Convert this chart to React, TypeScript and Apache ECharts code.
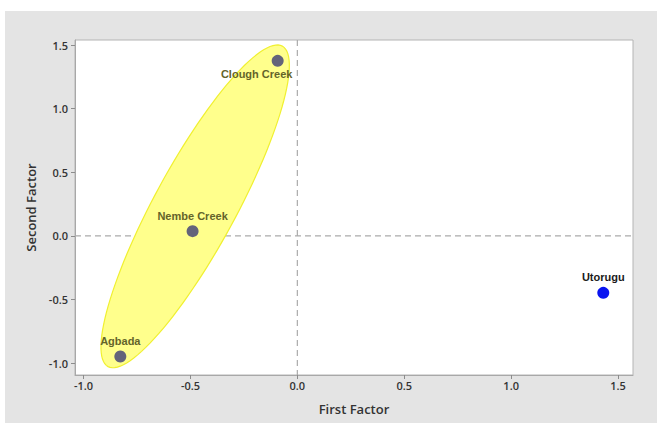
import React, { useEffect, useRef } from "react";
import * as echarts from "echarts";

// Factor scores per site
const sites = ["Clough Creek", "Nembe Creek", "Agbada", "Utorugu"];
const firstFactor = [-0.092, -0.49, -0.828, 1.431];
const secondFactor = [1.376, 0.037, -0.949, -0.448];
const grouped = [true, true, true, false];

const xTicks = [-1.0, -0.5, 0.0, 0.5, 1.0, 1.5];
const yTicks = [-1.0, -0.5, 0.0, 0.5, 1.0, 1.5];
const xRange = [-1.04, 1.57];
const yRange = [-1.094, 1.54];

// Grouping ellipse in factor units: centre, semi-major and semi-minor vectors
const ellipseCenter = [-0.478, 0.232];
const ellipseMajor = [0.4075, 1.26];
const ellipseMinor = [-0.1676, 0.1527];

const labelPlacement = [
  { position: "bottom", offset: [-21, -2] },
  { position: "top", offset: [0, 0] },
  { position: "top", offset: [0, 0] },
  { position: "top", offset: [0, 0] },
];

export default function App() {
  const ref = useRef<HTMLDivElement>(null);

  useEffect(() => {
    if (!ref.current) return;
    const chart = echarts.init(ref.current, undefined, { renderer: "svg" });

    const tickFont = {
      fontFamily: "Open Sans",
      fontWeight: 600 as const,
      fontSize: 11,
      color: "#333",
    };

    const points = sites.map((name, i) => ({
      name,
      value: [firstFactor[i], secondFactor[i]],
      itemStyle: { color: grouped[i] ? "#64647a" : "#0a14f0", opacity: 1 },
      label: {
        show: true,
        formatter: name,
        position: labelPlacement[i].position,
        offset: labelPlacement[i].offset,
        distance: 4,
        fontFamily: "Liberation Sans",
        fontWeight: "bold",
        fontSize: 11,
        color: grouped[i] ? "#64642a" : "#1a1a1a",
      },
    }));

    const dashStyle = {
      stroke: "#ababab",
      lineWidth: 1.2,
      lineDash: [6, 4],
      fill: null,
    };

    chart.setOption({
      animation: false,
      graphic: [
        {
          type: "rect",
          z: -10,
          silent: true,
          shape: { x: 5, y: 11, width: 652, height: 412 },
          style: { fill: "#e4e4e4" },
        },
      ],
      grid: {
        left: 75,
        top: 40,
        right: 24,
        bottom: 53,
        show: true,
        backgroundColor: "#ffffff",
        borderColor: "#b4b4b4",
        borderWidth: 1,
      },
      xAxis: {
        type: "value",
        min: xRange[0],
        max: xRange[1],
        name: "First Factor",
        nameLocation: "middle",
        nameGap: 27,
        nameTextStyle: {
          fontFamily: "Open Sans",
          fontWeight: 600,
          fontSize: 13,
          color: "#333",
        },
        splitLine: { show: false },
        axisLine: { show: true, onZero: false, lineStyle: { color: "#a8a8a8" } },
        axisTick: {
          show: true,
          length: 4,
          customValues: xTicks,
          lineStyle: { color: "#8c8c8c" },
        },
        axisLabel: {
          ...tickFont,
          margin: 5,
          customValues: xTicks,
          formatter: (v: number) => v.toFixed(1),
        },
      },
      yAxis: {
        type: "value",
        min: yRange[0],
        max: yRange[1],
        name: "Second Factor",
        nameLocation: "middle",
        nameGap: 38,
        nameTextStyle: {
          fontFamily: "Open Sans",
          fontWeight: 600,
          fontSize: 13,
          color: "#333",
        },
        splitLine: { show: false },
        axisLine: { show: true, onZero: false, lineStyle: { color: "#a8a8a8" } },
        axisTick: {
          show: true,
          length: 4,
          customValues: yTicks,
          lineStyle: { color: "#8c8c8c" },
        },
        axisLabel: {
          ...tickFont,
          margin: 7,
          customValues: yTicks,
          formatter: (v: number) => v.toFixed(1),
        },
      },
      series: [
        {
          // zero reference lines first, then the grouping ellipse over them
          type: "custom",
          z: 2,
          clip: false,
          silent: true,
          data: [ellipseCenter],
          renderItem: (_params: any, api: any) => {
            const vTop = api.coord([0, yRange[1]]);
            const vBottom = api.coord([0, yRange[0]]);
            const hLeft = api.coord([xRange[0], 0]);
            const hRight = api.coord([xRange[1], 0]);
            const pts: number[][] = [];
            const n = 120;
            for (let i = 0; i < n; i++) {
              const t = (i / n) * Math.PI * 2;
              const c = Math.cos(t);
              const s = Math.sin(t);
              const x = ellipseCenter[0] + ellipseMajor[0] * c + ellipseMinor[0] * s;
              const y = ellipseCenter[1] + ellipseMajor[1] * c + ellipseMinor[1] * s;
              pts.push(api.coord([x, y]));
            }
            return {
              type: "group",
              children: [
                {
                  type: "line",
                  shape: { x1: vTop[0], y1: vTop[1], x2: vBottom[0], y2: vBottom[1] },
                  style: dashStyle,
                },
                {
                  type: "line",
                  shape: { x1: hLeft[0], y1: hLeft[1], x2: hRight[0], y2: hRight[1] },
                  style: dashStyle,
                },
                {
                  type: "polygon",
                  shape: { points: pts },
                  style: { fill: "#ffff8c", stroke: "#f0f030", lineWidth: 1.2 },
                },
              ],
            };
          },
        },
        {
          type: "scatter",
          z: 3,
          symbolSize: 12,
          data: points,
        },
      ],
    });

    return () => chart.dispose();
  }, []);

  return (
    <div
      ref={ref}
      style={{ position: "absolute", left: 0, top: 0, width: 657, height: 428 }}
    />
  );
}
